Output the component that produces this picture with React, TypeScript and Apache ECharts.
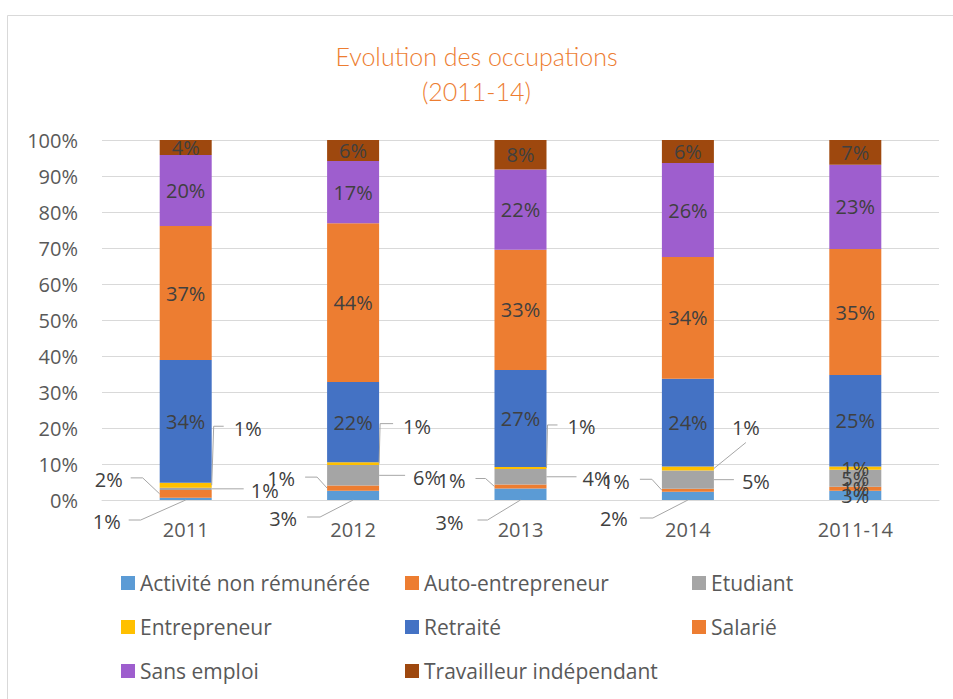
import React, { useEffect, useRef } from "react";
import * as echarts from "echarts";

const categories = ["2011", "2012", "2013", "2014", "2011-14"];
const seriesNames = [
  "Activité non rémunérée",
  "Auto-entrepreneur",
  "Etudiant",
  "Entrepreneur",
  "Retraité",
  "Salarié",
  "Sans emploi",
  "Travailleur indépendant",
];
const activite = [0.6, 2.6, 3.2, 2.3, 2.6];
const autoEntrepreneur = [2.2, 1.4, 1.1, 0.8, 1.1];
const etudiant = [0.6, 5.7, 4.3, 5.1, 4.7];
const entrepreneur = [1.4, 0.8, 0.6, 1.1, 0.9];
const retraite = [34.1, 22.3, 26.9, 24.4, 25.4];
const salarie = [37.2, 44.1, 33.4, 33.8, 35.0];
const sansEmploi = [19.7, 17.3, 22.3, 26.1, 23.4];
const travailleur = [4.2, 5.8, 8.2, 6.4, 6.9];
const yTicks = [0, 10, 20, 30, 40, 50, 60, 70, 80, 90, 100];

const seriesValues = [activite, autoEntrepreneur, etudiant, entrepreneur, retraite, salarie, sansEmploi, travailleur];
const colors = ["#5B9BD5", "#ED7D31", "#A5A5A5", "#FFC000", "#4472C4", "#ED7D31", "#9E5ECE", "#9E480E"];

// leader-line label layout (pixel offsets relative to an anchor on the segment)
type Leader = { s: number; c: number; anchor: "bottom" | "left" | "right"; pts: number[][]; text: number[]; align: string };
const leaderLayout: Leader[] = [
  { s: 0, c: 0, anchor: "bottom", pts: [[0, 0], [-45, 20], [-57, 20]], text: [-65, 21], align: "right" },
  { s: 1, c: 0, anchor: "left", pts: [[0, 0], [-17, -16], [-29, -16]], text: [-37, -14], align: "right" },
  { s: 2, c: 0, anchor: "right", pts: [[0, 0], [32, 0]], text: [39, 2], align: "left" },
  { s: 3, c: 0, anchor: "right", pts: [[0, 0], [2, -59], [12, -59]], text: [22, -57], align: "left" },
  { s: 0, c: 1, anchor: "bottom", pts: [[0, 0], [-33, 17], [-46, 17]], text: [-56, 18], align: "right" },
  { s: 1, c: 1, anchor: "left", pts: [[0, 0], [-10, -11], [-22, -11]], text: [-32, -10], align: "right" },
  { s: 2, c: 1, anchor: "right", pts: [[0, 0], [26, 0]], text: [34, 2], align: "left" },
  { s: 3, c: 1, anchor: "right", pts: [[0, 0], [1, -40], [14, -40]], text: [24, -37], align: "left" },
  { s: 0, c: 2, anchor: "bottom", pts: [[0, 0], [-33, 20], [-43, 20]], text: [-57, 22], align: "right" },
  { s: 1, c: 2, anchor: "left", pts: [[0, 0], [-9, -8], [-19, -8]], text: [-29, -6], align: "right" },
  { s: 2, c: 2, anchor: "right", pts: [[0, 0], [30, 0]], text: [36, 2], align: "left" },
  { s: 3, c: 2, anchor: "right", pts: [[0, 0], [1, -43], [11, -43]], text: [21, -41], align: "left" },
  { s: 0, c: 3, anchor: "bottom", pts: [[0, 0], [-35, 18], [-48, 18]], text: [-60, 18], align: "right" },
  { s: 1, c: 3, anchor: "left", pts: [[0, 0], [-10, -11], [-22, -11]], text: [-32, -9], align: "right" },
  { s: 2, c: 3, anchor: "right", pts: [[0, 0], [20, 0]], text: [28, 2], align: "left" },
  { s: 3, c: 3, anchor: "right", pts: [[0, 0], [32, -26]], text: [18, -41], align: "left" },
];

const FONT = "Open Sans";
const BAR_W = 52;

export default function App() {
  const ref = useRef<HTMLDivElement>(null);
  useEffect(() => {
    document.body.style.margin = "0";
    const chart = echarts.init(ref.current!, null, { renderer: "svg" });
    const hasLeader = (s: number, c: number) => leaderLayout.some((l) => l.s === s && l.c === c);
    const series = seriesNames.map((name, si) => ({
      name,
      type: "bar",
      stack: "total",
      barWidth: BAR_W,
      itemStyle: { color: colors[si] },
      label: {
        show: true,
        position: "inside",
        color: "#404040",
        fontSize: 20,
        fontFamily: FONT,
        formatter: (p: any) => Math.round(p.value) + "%",
      },
      data: seriesValues[si].map((v, ci) => (hasLeader(si, ci) ? { value: v, label: { show: false } } : v)),
    }));
    const legendCol = (names: string[], left: number) => ({
      orient: "vertical",
      left,
      top: 572,
      padding: 0,
      itemGap: 22,
      itemWidth: 14,
      itemHeight: 14,
      icon: "rect",
      textStyle: { color: "#595959", fontSize: 21, fontFamily: FONT, lineHeight: 22 },
      data: names,
    });
    chart.setOption({
      animation: false,
      backgroundColor: "#ffffff",
      title: {
        text: "Evolution des occupations\n(2011-14)",
        left: "center",
        top: 38,
        padding: 0,
        textStyle: { color: "#ED7D31", fontSize: 25, fontWeight: 300, fontFamily: "Lato", lineHeight: 35 },
      },
      legend: [
        legendCol([seriesNames[0], seriesNames[3], seriesNames[6]], 121),
        legendCol([seriesNames[1], seriesNames[4], seriesNames[7]], 405),
        legendCol([seriesNames[2], seriesNames[5]], 692),
      ],
      grid: { left: 102, right: 14, top: 140, bottom: 199, containLabel: false },
      xAxis: {
        type: "category",
        data: categories,
        axisLine: { show: true, lineStyle: { color: "#d9d9d9" } },
        axisTick: { show: false },
        axisLabel: { color: "#595959", fontSize: 20, fontFamily: FONT, margin: 19 },
      },
      yAxis: {
        type: "value",
        min: yTicks[0],
        max: yTicks[yTicks.length - 1],
        interval: yTicks[1] - yTicks[0],
        axisLine: { show: false },
        axisTick: { show: false },
        splitLine: { lineStyle: { color: "#d9d9d9", width: 1 } },
        axisLabel: { color: "#595959", fontSize: 20, fontFamily: FONT, margin: 24, formatter: "{value}%" },
      },
      series,
    });

    const graphics: any[] = [];
    leaderLayout.forEach((L) => {
      let base = 0;
      for (let k = 0; k < L.s; k++) base += seriesValues[k][L.c];
      const v = seriesValues[L.s][L.c];
      const [cx, yb] = chart.convertToPixel({ gridIndex: 0 }, [L.c, base]) as number[];
      const [, yt] = chart.convertToPixel({ gridIndex: 0 }, [L.c, base + v]) as number[];
      let ax = cx, ay = yb;
      if (L.anchor === "left") { ax = cx - BAR_W / 2; ay = (yb + yt) / 2; }
      if (L.anchor === "right") { ax = cx + BAR_W / 2; ay = (yb + yt) / 2; }
      graphics.push({
        type: "polyline",
        z: 10,
        shape: { points: L.pts.map((p) => [ax + p[0], ay + p[1]]) },
        style: { stroke: "#a6a6a6", lineWidth: 1, fill: null },
      });
      graphics.push({
        type: "text",
        z: 11,
        x: ax + L.text[0],
        y: ay + L.text[1],
        style: {
          text: Math.round(v) + "%",
          fill: "#404040",
          fontSize: 20,
          fontFamily: FONT,
          align: L.align,
          verticalAlign: "middle",
        },
      });
    });
    graphics.push({ type: "line", z: 1, shape: { x1: 7.5, y1: 15.5, x2: 953, y2: 15.5 }, style: { stroke: "#d9d9d9", lineWidth: 1 } });
    graphics.push({ type: "line", z: 1, shape: { x1: 7.5, y1: 15.5, x2: 7.5, y2: 699 }, style: { stroke: "#d9d9d9", lineWidth: 1 } });
    chart.setOption({ graphic: graphics });
    return () => chart.dispose();
  }, []);
  return <div ref={ref} style={{ width: 953, height: 699 }} />;
}
